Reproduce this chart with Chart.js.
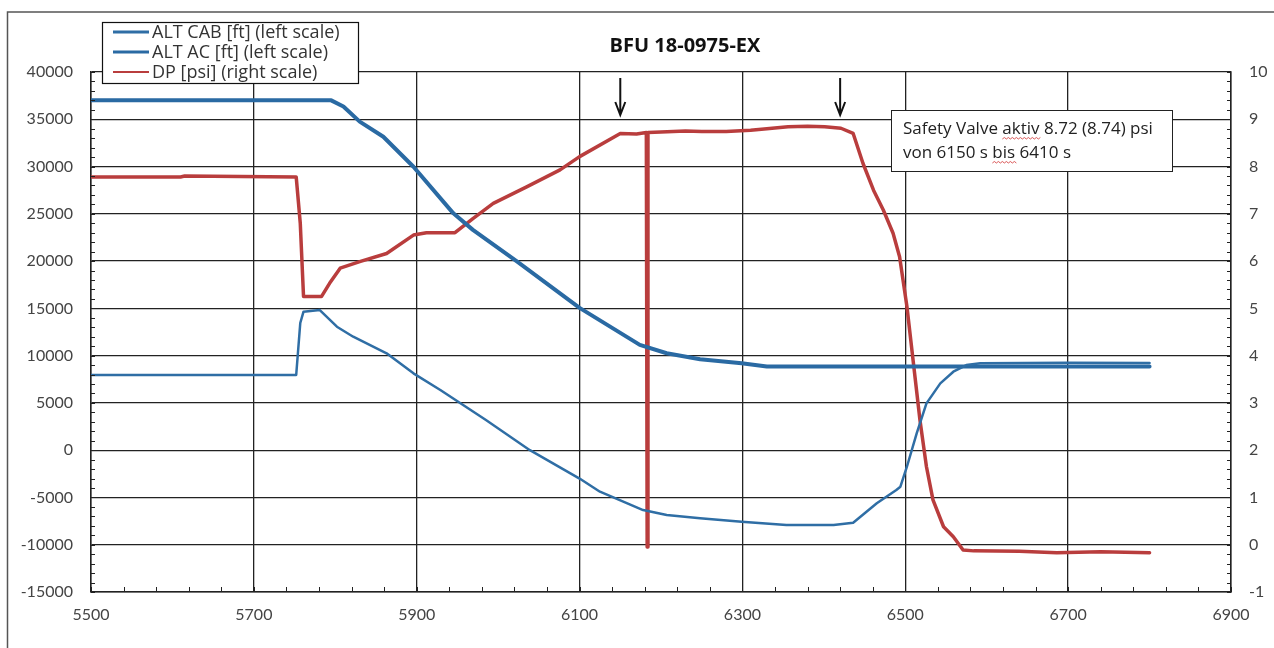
<!DOCTYPE html>
<html>
<head>
<meta charset="utf-8">
<script src="https://cdn.jsdelivr.net/npm/chart.js@4.4.1/dist/chart.umd.min.js"></script>
<style>
  html, body { margin: 0; padding: 0; background: #fff; }
  #wrap { width: 1274px; height: 648px; }
</style>
</head>
<body>
<div id="wrap"><canvas id="cabin" width="1274" height="648"></canvas></div>
<script>
// values: time [s] and value
var altCabTime = [5500, 5752, 5757, 5761, 5781, 5802, 5822, 5863, 5896, 5929, 5985, 6039, 6100, 6125, 6178, 6207, 6248, 6299, 6354, 6412, 6436, 6465, 6489, 6494, 6502, 6514, 6526, 6543, 6559, 6575, 6592, 6700, 6800];
var altCabFt   = [7950, 7950, 13450, 14650, 14820, 13060, 12000, 10250, 8130, 6370, 3200, 0, -3000, -4390, -6330, -6860, -7210, -7560, -7910, -7910, -7670, -5620, -4210, -3860, -1750, 1780, 4950, 7070, 8300, 9000, 9190, 9250, 9220];

var altAcTime = [5500, 5795, 5810, 5830, 5859, 5896, 5945, 5969, 6023, 6100, 6174, 6207, 6248, 6299, 6330, 6500, 6800];
var altAcFt   = [37000, 37000, 36350, 34750, 33150, 29980, 25050, 23300, 19980, 15050, 11140, 10250, 9610, 9190, 8840, 8840, 8840];

var dpTime = [5500, 5610, 5615, 5752, 5757, 5761, 5783, 5793, 5806, 5830, 5863, 5896, 5912, 5947, 5969, 5994, 6035, 6076, 6100, 6150, 6170, 6182, 6183, 6184, 6200, 6230, 6250, 6280, 6310, 6330, 6356, 6380, 6401, 6421, 6436, 6448, 6461, 6473, 6485, 6493, 6502, 6510, 6518, 6526, 6534, 6547, 6559, 6571, 6584, 6640, 6686, 6740, 6800];
var dpPsi  = [7.78, 7.78, 7.80, 7.78, 6.80, 5.25, 5.25, 5.53, 5.85, 5.99, 6.16, 6.55, 6.60, 6.60, 6.90, 7.22, 7.57, 7.93, 8.21, 8.70, 8.69, 8.72, -0.05, 8.72, 8.73, 8.75, 8.74, 8.74, 8.77, 8.80, 8.84, 8.85, 8.84, 8.81, 8.70, 8.07, 7.50, 7.08, 6.59, 6.09, 5.04, 3.84, 2.64, 1.65, 0.95, 0.38, 0.17, -0.11, -0.13, -0.14, -0.17, -0.15, -0.17];

var seriesNames = ['ALT CAB [ft] (left scale)', 'ALT AC [ft] (left scale)', 'DP [psi] (right scale)'];
var chartTitle = 'BFU 18-0975-EX';
var noteLines = ['Safety Valve aktiv 8.72 (8.74) psi', 'von 6150 s bis 6410 s'];
var arrowTimes = [6150, 6420];

var blue = '#2f6ea5', blueDark = '#2a6aa3', red = '#b93d3d';
var tickFont = { family: 'Lato', size: 16 };

function toPoints(xs, ys) {
    return xs.map(function(x, i) { return { x: x, y: ys[i] }; });
}

// red spell-check squiggle under a word
function squiggle(c, x0, x1, y) {
    c.save();
    c.strokeStyle = '#d03030';
    c.lineWidth = 0.8;
    c.beginPath();
    c.moveTo(x0, y);
    for (var x = x0, up = true; x < x1; x += 2, up = !up) {
        c.lineTo(x + 2, up ? y - 1.5 : y);
    }
    c.stroke();
    c.restore();
}

// minor ticks, frame, title, legend, arrows and the note box
var decorations = {
    id: 'decorations',
    afterDraw: function(chart) {
        var c = chart.ctx, a = chart.chartArea;
        var sx = chart.scales.x, sy = chart.scales.y, sy2 = chart.scales.y2;
        c.save();

        // outer frame (left and top edge visible)
        c.strokeStyle = '#555';
        c.lineWidth = 1.5;
        c.beginPath();
        c.moveTo(7.5, 660); c.lineTo(7.5, 12); c.lineTo(1280, 12);
        c.stroke();

        // minor ticks
        c.strokeStyle = '#222';
        c.lineWidth = 1;
        c.beginPath();
        for (var i = 0; i <= 55; i++) {
            var py = Math.round(sy.getPixelForValue(-15000 + i * 1000)) + 0.5;
            c.moveTo(a.left, py); c.lineTo(a.left + 4, py);
        }
        for (var j = 0; j <= 55; j++) {
            var py2 = Math.round(sy2.getPixelForValue(-1 + j * 0.2)) + 0.5;
            c.moveTo(a.right - 4, py2); c.lineTo(a.right, py2);
        }
        for (var k = 0; k <= 35; k++) {
            var px = Math.round(sx.getPixelForValue(5500 + k * 40)) + 0.5;
            c.moveTo(px, a.bottom); c.lineTo(px, a.bottom - 5);
        }
        c.stroke();

        // title
        c.fillStyle = '#111';
        c.font = 'bold 20px "Open Sans"';
        c.textAlign = 'center';
        c.textBaseline = 'middle';
        c.fillText(chartTitle, 685, 46);

        // arrows
        c.strokeStyle = '#111';
        c.lineWidth = 2;
        arrowTimes.forEach(function(t) {
            var ax = sx.getPixelForValue(t);
            c.beginPath();
            c.moveTo(ax, 78); c.lineTo(ax, 114);
            c.moveTo(ax - 5, 102); c.lineTo(ax, 115); c.lineTo(ax + 5, 102);
            c.stroke();
        });

        // legend box
        c.fillStyle = '#fff';
        c.fillRect(102, 22, 256, 61);
        c.strokeStyle = '#111';
        c.lineWidth = 1.2;
        c.strokeRect(102.5, 22.5, 256, 61);
        c.font = '18px "Open Sans"';
        c.textAlign = 'left';
        c.textBaseline = 'middle';
        chart.data.datasets.forEach(function(ds, n) {
            var ly = 32 + n * 20;
            c.strokeStyle = ds.borderColor;
            c.lineWidth = n === 2 ? 2 : 3;
            c.beginPath();
            c.moveTo(113, ly); c.lineTo(149, ly);
            c.stroke();
            c.fillStyle = '#333';
            c.fillText(ds.label, 152, ly + 1);
        });

        // note box
        c.fillStyle = '#fff';
        c.fillRect(891, 110, 281, 61);
        c.strokeStyle = '#222';
        c.lineWidth = 1;
        c.strokeRect(891.5, 110.5, 281, 61);
        c.fillStyle = '#222';
        c.font = '17px "Open Sans"';
        c.textBaseline = 'alphabetic';
        c.fillText(noteLines[0], 903, 134);
        c.fillText(noteLines[1], 903, 158);
        var w1 = c.measureText('Safety Valve ').width, w2 = c.measureText('aktiv').width;
        squiggle(c, 903 + w1, 903 + w1 + w2, 139);
        var w3 = c.measureText('von 6150 s ').width, w4 = c.measureText('bis').width;
        squiggle(c, 903 + w3, 903 + w3 + w4, 163);

        c.restore();
    }
};

new Chart(document.getElementById('cabin').getContext('2d'), {
    type: 'line',
    data: {
        datasets: [
            {
                label: seriesNames[0],
                data: toPoints(altCabTime, altCabFt),
                borderColor: blue,
                borderWidth: 2.5,
                yAxisID: 'y'
            },
            {
                label: seriesNames[1],
                data: toPoints(altAcTime, altAcFt),
                borderColor: blueDark,
                borderWidth: 4,
                yAxisID: 'y'
            },
            {
                label: seriesNames[2],
                data: toPoints(dpTime, dpPsi),
                borderColor: red,
                borderWidth: 3.5,
                yAxisID: 'y2'
            }
        ]
    },
    options: {
        responsive: false,
        animation: false,
        events: [],
        elements: { point: { radius: 0 }, line: { tension: 0, borderJoinStyle: 'round', borderCapStyle: 'round' } },
        layout: { padding: { top: 72, left: 0, right: 0, bottom: 0 } },
        plugins: { legend: { display: false }, title: { display: false }, tooltip: { enabled: false } },
        scales: {
            x: {
                type: 'linear',
                min: 5500, max: 6900,
                ticks: { stepSize: 200, color: '#444', font: tickFont, padding: 13, maxRotation: 0,
                         callback: function(v) { return String(v); } },
                grid: { color: '#222', lineWidth: 1.3, drawTicks: false },
                border: { color: '#222', width: 1.5 },
                afterFit: function(s) { s.height = 56; }
            },
            y: {
                position: 'left',
                min: -15000, max: 40000,
                ticks: { stepSize: 5000, color: '#444', font: tickFont, padding: 18,
                         callback: function(v) { return String(v); } },
                grid: { color: '#222', lineWidth: 1.3, drawTicks: false },
                border: { color: '#222', width: 1.5 },
                afterFit: function(s) { s.width = 91; }
            },
            y2: {
                position: 'right',
                min: -1, max: 10,
                ticks: { stepSize: 1, color: '#444', font: tickFont, padding: 18,
                         callback: function(v) { return String(v); } },
                grid: { drawOnChartArea: false, drawTicks: false },
                border: { color: '#222', width: 1.5 },
                afterFit: function(s) { s.width = 43; }
            }
        }
    },
    plugins: [decorations]
});
</script>
</body>
</html>
